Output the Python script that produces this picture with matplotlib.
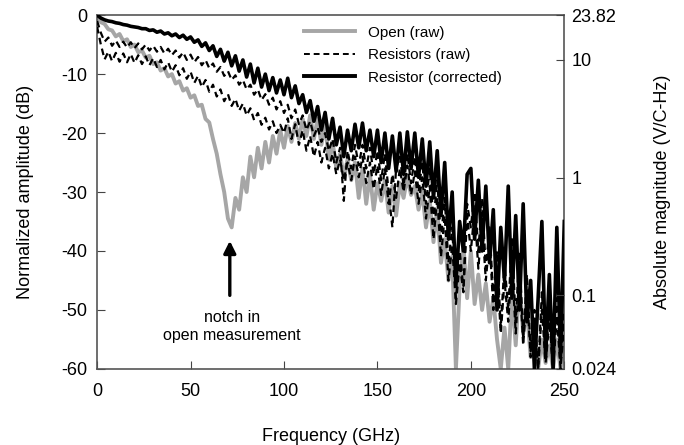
import matplotlib
matplotlib.use('Agg')
import matplotlib.pyplot as plt
from matplotlib.lines import Line2D
import numpy as np

plt.rcParams['font.family'] = ['Liberation Sans', 'DejaVu Sans']
plt.rcParams['axes.unicode_minus'] = False

# частотная сетка, ГГц (шаг 2)
freq = np.arange(0, 251, 2)

# Open (raw), дБ
open_raw = [
    -0.3, -1.2, -1.5, -2.4, -2.6, -3.6, -3.2, -4.4, -4.1, -5.4,
    -5.0, -6.3, -6.0, -7.2, -6.9, -8.3, -8.0, -9.4, -9.0, -10.4,
    -10.0, -11.6, -11.2, -12.8, -12.4, -14.0, -13.6, -15.4, -15.2, -17.6,
    -18.2, -21.0, -23.5, -27.0, -30.0, -34.5, -36.0, -31.0, -33.0, -27.5,
    -30.0, -24.0, -27.5, -22.5, -26.0, -21.5, -25.0, -20.5, -23.5, -19.5,
    -22.5, -18.8, -21.5, -18.3, -21.0, -17.6, -20.5, -17.0, -21.0, -17.5,
    -22.0, -18.5, -24.5, -21.5, -26.0, -23.5, -27.5, -24.5, -28.0, -25.0,
    -31.0, -26.0, -32.0, -27.0, -33.0, -28.5, -31.5, -28.0, -33.5, -29.0,
    -34.0, -28.5, -31.0, -27.5, -30.5, -29.0, -33.0, -30.0, -36.0, -31.5,
    -38.5, -33.0, -42.0, -38.0, -45.0, -41.0, -60.0, -46.0, -39.0, -48.0,
    -40.0, -49.0, -44.0, -50.0, -45.5, -52.0, -48.0, -55.0, -60.0, -53.0,
    -60.0, -47.0, -56.0, -45.0, -54.0, -50.0, -58.0, -53.0, -60.0, -55.0,
    -59.0, -56.0, -60.0, -55.0, -60.0, -56.0,
]

# Resistors (raw), две кривые
res_raw_a = [
    -1.0, -3.0, -4.5, -3.8, -5.2, -4.3, -5.4, -4.5, -5.5, -4.6,
    -5.6, -4.8, -5.8, -5.0, -6.0, -5.2, -6.2, -5.4, -6.5, -5.7,
    -6.8, -6.0, -7.2, -6.3, -7.6, -6.7, -8.0, -7.1, -8.5, -7.6,
    -9.0, -8.2, -9.6, -8.8, -10.3, -9.5, -11.0, -10.2, -11.8, -11.0,
    -12.6, -11.8, -13.5, -12.6, -14.4, -13.4, -15.2, -14.0, -16.0, -14.6,
    -16.6, -15.2, -17.5, -16.0, -18.5, -17.0, -19.5, -18.0, -20.5, -19.0,
    -21.5, -20.0, -23.0, -21.0, -25.0, -22.5, -31.5, -23.0, -26.0, -22.0,
    -25.5, -22.0, -26.0, -22.5, -27.0, -23.0, -28.0, -23.5, -30.0, -36.0,
    -26.0, -24.0, -29.0, -23.5, -28.5, -24.0, -30.0, -25.0, -32.0, -26.0,
    -35.0, -28.0, -38.0, -31.0, -42.0, -36.0, -48.0, -40.0, -46.0, -32.0,
    -36.0, -30.0, -40.0, -31.0, -43.0, -36.0, -48.0, -40.0, -53.0, -42.0,
    -50.0, -38.0, -52.0, -40.0, -55.0, -44.0, -57.0, -50.0, -60.0, -47.0,
    -58.0, -50.0, -60.0, -48.0, -59.0, -50.0,
]

res_raw_b = [
    -2.0, -5.0, -7.5, -6.2, -7.8, -6.4, -7.9, -6.5, -8.0, -6.6,
    -8.1, -6.8, -8.3, -7.0, -8.5, -7.3, -8.8, -7.6, -9.2, -8.0,
    -9.6, -8.5, -10.2, -9.0, -10.8, -9.6, -11.5, -10.3, -12.2, -11.0,
    -13.0, -11.8, -13.8, -12.6, -14.6, -13.4, -15.4, -14.2, -16.2, -15.0,
    -17.0, -15.8, -17.8, -16.6, -18.6, -17.4, -19.4, -18.0, -20.0, -18.6,
    -20.0, -17.5, -21.0, -18.5, -22.0, -19.5, -23.0, -20.5, -24.0, -21.5,
    -25.0, -22.5, -26.0, -23.5, -27.0, -24.5, -28.0, -25.0, -28.0, -24.0,
    -27.5, -24.0, -28.5, -25.0, -29.5, -25.5, -30.5, -26.0, -32.0, -27.0,
    -31.0, -26.0, -30.0, -25.5, -30.5, -26.5, -32.0, -27.5, -34.5, -29.0,
    -38.0, -31.0, -41.0, -34.0, -45.0, -39.0, -49.0, -42.0, -47.0, -34.0,
    -40.0, -33.0, -43.0, -35.0, -45.0, -38.0, -50.0, -43.0, -54.0, -45.0,
    -52.0, -42.0, -54.0, -44.0, -56.0, -47.0, -58.0, -52.0, -60.0, -50.0,
    -59.0, -52.0, -60.0, -51.0, -60.0, -52.0,
]

# Resistor (corrected)
res_corr = [
    0.0, -0.5, -0.8, -1.0, -1.1, -1.3, -1.4, -1.6, -1.7, -1.9,
    -2.0, -2.1, -2.3, -2.3, -2.6, -2.5, -2.9, -2.7, -3.2, -3.0,
    -3.5, -3.2, -3.8, -3.4, -4.1, -3.7, -4.6, -4.2, -5.3, -4.7,
    -6.0, -5.2, -7.0, -5.8, -7.8, -6.3, -8.6, -6.9, -9.5, -7.6,
    -10.5, -8.3, -11.5, -9.0, -12.2, -10.0, -12.8, -10.6, -13.2, -11.0,
    -13.5, -10.7, -14.0, -12.0, -15.0, -13.5, -16.5, -14.5, -18.0, -15.5,
    -19.5, -16.5, -21.0, -17.5, -22.0, -19.0, -24.0, -19.5, -23.0, -18.5,
    -22.5, -18.3, -23.0, -19.5, -24.0, -19.5, -25.0, -20.0, -26.0, -20.5,
    -26.5, -20.0, -27.0, -19.8, -26.0, -20.0, -27.5, -21.0, -29.0, -21.5,
    -31.0, -23.0, -34.0, -25.0, -38.0, -30.0, -46.0, -35.0, -40.0, -27.0,
    -26.0, -38.0, -28.0, -40.0, -29.0, -42.0, -33.0, -50.0, -36.0, -45.0,
    -29.0, -48.0, -34.0, -50.0, -32.0, -52.0, -45.0, -60.0, -48.0, -35.0,
    -58.0, -44.0, -60.0, -36.0, -58.0, -35.0,
]

right_ticks = [23.82 * 1e-3, 0.1, 1, 10, 23.82]
right_labels = ['0.024', '0.1', '1', '10', '23.82']

fig = plt.figure(figsize=(6.84, 4.45), dpi=100)
ax = fig.add_axes([0.142, 0.171, 0.683, 0.795])

ax.plot(freq, open_raw, color='#a6a6a6', lw=2.8, zorder=2)
ax.plot(freq, res_raw_a, color='black', lw=1.6, ls=(0, (3, 2)), zorder=3)
ax.plot(freq, res_raw_b, color='black', lw=1.6, ls=(0, (3, 2)), zorder=3)
ax.plot(freq, res_corr, color='black', lw=2.6, zorder=4)

ax.set_xlim(0, 250)
ax.set_ylim(-60, 0)
ax.set_xticks(range(0, 251, 50))
ax.set_xticks(range(25, 251, 50), minor=True)
ax.set_yticks(range(-60, 1, 10))
ax.tick_params(axis='both', which='both', direction='in', labelsize=13, color='#444444')
ax.tick_params(axis='both', which='major', length=6, pad=7)
ax.tick_params(axis='x', which='major', pad=10)
ax.tick_params(axis='x', which='minor', length=4)
ax.set_xlabel('Frequency (GHz)', fontsize=13, labelpad=20)
ax.set_ylabel('Normalized amplitude (dB)', fontsize=13, labelpad=20)
for s in ax.spines.values():
    s.set_color('#555555')
    s.set_linewidth(1.2)

ax2 = ax.twinx()
ax2.set_yscale('log')
ax2.set_ylim(23.82 * 1e-3, 23.82)
ax2.set_yticks(right_ticks)
ax2.set_yticklabels(right_labels)
ax2.minorticks_off()
ax2.tick_params(axis='y', direction='in', length=6, labelsize=13, pad=5, color='#444444')
ax2.set_ylabel('Absolute magnitude (V/C-Hz)', fontsize=13, labelpad=27)
for s in ax2.spines.values():
    s.set_visible(False)

# стрелка и подпись
ax.annotate('', xy=(71, -37.8), xytext=(71, -48),
            arrowprops=dict(arrowstyle='-|>', color='black', lw=2.4,
                            mutation_scale=18))
ax.text(72, -52.8, 'notch in\nopen measurement', ha='center', va='center',
        fontsize=11.5, linespacing=1.25)

handles = [Line2D([], [], color='#a6a6a6', lw=2.8),
           Line2D([], [], color='black', lw=1.4, ls=(0, (3, 2))),
           Line2D([], [], color='black', lw=2.8)]
ax.legend(handles, ['Open (raw)', 'Resistors (raw)', 'Resistor (corrected)'],
          loc='upper right', bbox_to_anchor=(0.89, 1.0), frameon=False,
          fontsize=11, handlelength=3.3, handletextpad=0.9,
          labelspacing=0.55, borderaxespad=0.3)

fig.savefig('out.png', dpi=100)
